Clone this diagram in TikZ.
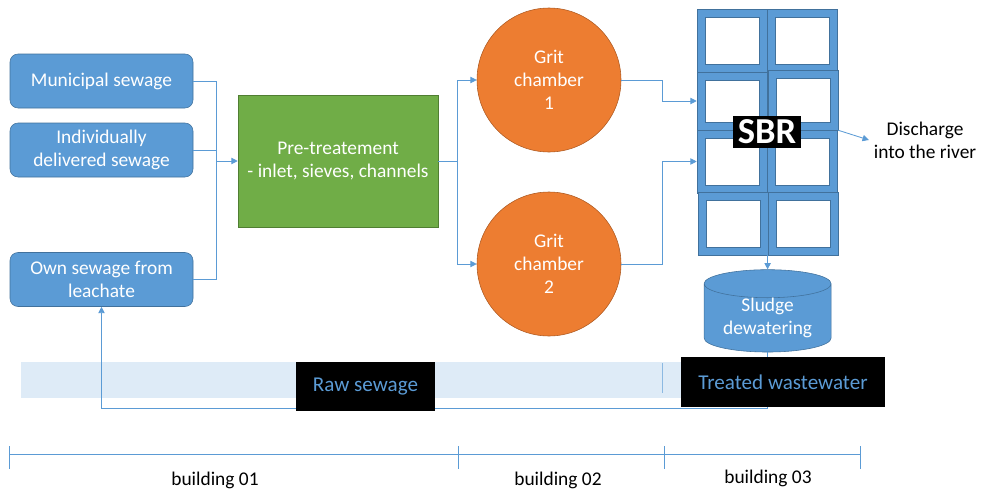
\documentclass[tikz,border=0pt]{standalone}
\usepackage{fontspec}
\setmainfont{Carlito}
\usepackage{tikz}
\usetikzlibrary{positioning, calc}
\usetikzlibrary{arrows.meta}
\usetikzlibrary{shapes.geometric}

\definecolor{boxblue}{HTML}{5B9BD5}
\definecolor{edgeblue}{HTML}{41719C}
\definecolor{pregreen}{HTML}{70AD47}
\definecolor{preedge}{HTML}{507E32}
\definecolor{gritorange}{HTML}{ED7D31}
\definecolor{gritedge}{HTML}{AE5A21}
\definecolor{bandblue}{HTML}{DEEBF7}

\begin{document}
\begin{tikzpicture}[>={Triangle[length=4.5pt,width=4.5pt]},font=\fontsize{13.8}{16.5}\selectfont]
	\def \srccol{2.5375}
	\def \gritcol{13.725}
	\def \rtnht{2.025}
	\tikzstyle{src-node}=[rectangle,rounded corners=0.2cm,fill=boxblue,draw=edgeblue,text=white,align=center,minimum width=4.575cm,minimum height=1.35cm,inner sep=2pt]
	\tikzstyle{pre-node}=[rectangle,fill=pregreen,draw=preedge,text=white,align=center,minimum width=5cm,minimum height=3.3cm]
	\tikzstyle{grit-node}=[circle,fill=gritorange,draw=gritedge,text=white,align=center,minimum size=3.6cm,inner sep=0pt]
	\tikzstyle{cell-node}=[rectangle,fill=boxblue,draw=edgeblue,minimum width=1.75cm,inner sep=0pt]
	\tikzstyle{hole-node}=[rectangle,fill=white,draw=edgeblue,minimum width=1.35cm,inner sep=0pt]
	\tikzstyle{tag-node}=[rectangle,fill=black,text=boxblue,inner sep=0pt,font=\fontsize{15}{18}\selectfont]
	\tikzstyle{flow}=[draw=boxblue,line width=0.6pt]
	\tikzstyle{annot}=[text=black,align=center]

	\useasboundingbox (0,0) rectangle (24.6,12.225);

	% background band
	\fill[bandblue] (0.525,2.275) rectangle (17.1,3.175);
	\draw[flow,draw=boxblue!70] (16.55,3.15) -- (16.55,2.4);

	% sources
	\node[src-node] (mun) at (\srccol,10.2)   {Municipal sewage};
	\node[src-node] (ind) at (\srccol,8.475)  {Individually\\delivered sewage};
	\node[src-node] (own) at (\srccol,5.2375) {Own sewage from\\leachate};

	% pre-treatment and grit chambers
	\node[pre-node]  (pre) at (8.45,8.2)          {Pre-treatement\\- inlet, sieves, channels};
	\node[grit-node] (g1)  at (\gritcol,10.225)   {Grit\\chamber\\1};
	\node[grit-node] (g2)  at (\gritcol,5.625)    {Grit\\chamber\\2};

	\coordinate (jn)    at (5.4,8.2);
	\coordinate (split) at (11.425,8.2);
	\coordinate (knee)  at (16.55,8.2);
	\coordinate (rtn)   at (0,\rtnht);

	% SBR grid
	\foreach \n/\x/\y/\h in {11/18.3/11.2125/1.575, 12/20.05/11.2125/1.575,
		21/18.3/9.7/1.45, 22/20.075/9.725/1.5,
		31/18.3/8.1875/1.575, 32/20.05/8.1875/1.575,
		41/18.3375/6.6375/1.575, 42/20.0875/6.6375/1.575}
	{
		\node[cell-node,minimum height=\h cm] (c\n) at (\x,\y) {};
		\node[hole-node,minimum height=\h cm-0.4cm] (h\n) at (c\n) {};
	}
	\node[fill=black,text=white,inner sep=0pt,minimum width=1.7cm,minimum height=0.8cm,
		font=\fontsize{26}{26}\selectfont\bfseries] (sbr) at (19.175,8.925) {SBR};

	\node[annot] (dis) at (23.125,8.725) {Discharge\\into the river};

	% sludge
	\node[cylinder,shape border rotate=90,aspect=0.315,fill=boxblue,draw=edgeblue,text=white,
		align=center,minimum width=3.175cm,minimum height=2cm,inner sep=0pt] (sludge) at (19.19,4.275)
		{Sludge\\dewatering};

	% connectors
	\draw[flow] (mun.east) -| (jn);
	\draw[flow] (ind.east) -- (ind.east -| jn);
	\draw[flow] (own.east) -| (jn);
	\draw[flow,->] (jn) -- (pre.west);
	\draw[flow] (pre.east) -- (split);
	\draw[flow,->] (split) |- (g1.west);
	\draw[flow,->] (split) |- (g2.west);
	\draw[flow,->] (g1.east) -| (c21.west -| knee) -- (c21.west);
	\draw[flow,->] (g2.east) -| (c31.west -| knee) -- (c31.west);
	\draw[flow,->] (c22.south east) -- (dis.west);
	\draw[flow,->] (sludge.north |- c41.south) -- (sludge.north);
	\draw[flow,->] (sludge.south) -- (sludge.south |- rtn) -| (own.south);

	% tags
	\node[tag-node,minimum width=3.475cm,minimum height=1.225cm] (raw) at (9.1375,2.5625) {Raw sewage};
	\node[tag-node,minimum width=5.1cm,minimum height=1.25cm] (treated) at (19.575,2.675) {Treated wastewater};

	% buildings
	\draw[flow] (0.225,0.875) -- (21.5,0.875);
	\foreach \x in {0.225,11.45,16.6,21.5}
		\draw[flow] (\x,1.075) -- (\x,0.5);
	\node[annot,anchor=base] (b01) at (5.375,0.1)  {building 01};
	\node[annot,anchor=base] (b02) at (13.95,0.09) {building 02};
	\node[annot,anchor=base] (b03) at (19.2,0.15)  {building 03};
\end{tikzpicture}
\end{document}
